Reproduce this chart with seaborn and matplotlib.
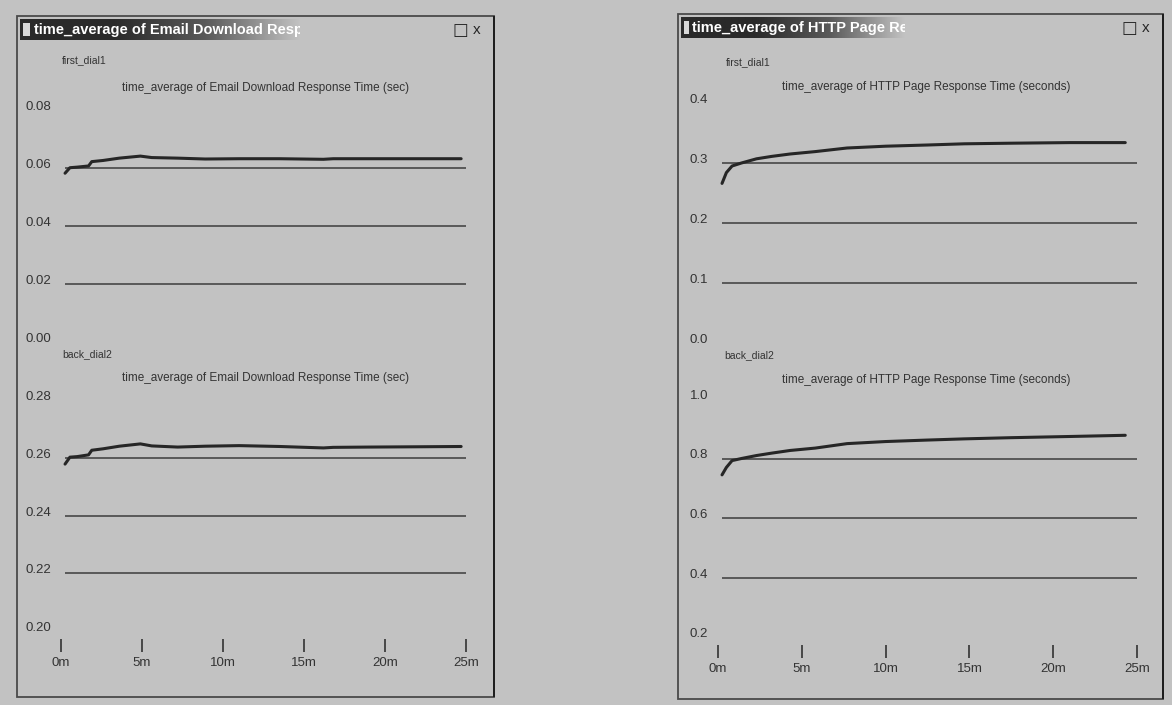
import numpy as np
import matplotlib
matplotlib.use("Agg")
import matplotlib.pyplot as plt
import seaborn as sns
from matplotlib.patches import Rectangle
from matplotlib.colors import LinearSegmentedColormap

sns.set_theme(style="white")
plt.rcParams['font.family'] = ['Liberation Sans Narrow', 'Liberation Sans', 'DejaVu Sans']

W, H = 1172, 705
BG = "#c2c2c2"
INK = "#262626"
GRID = "#3c3c3c"

# Simulation time axis (minutes)
minute_ticks = [0, 5, 10, 15, 20, 25]
minute_labels = ["0m", "5m", "10m", "15m", "20m", "25m"]

# Email download response time (sec)
email_t = [0.25, 0.55, 1.0, 1.7, 1.9, 2.6, 3.6, 4.9, 5.6, 7.2, 8.9, 11.0, 13.5, 16.2, 16.8, 19.0, 22.0, 24.7]
email_first = [0.0582, 0.0601, 0.0603, 0.0607, 0.0622, 0.0626, 0.0634, 0.0641, 0.0636, 0.0634,
               0.0631, 0.0632, 0.0632, 0.0630, 0.0632, 0.0632, 0.0632, 0.0632]
email_back = [0.2578, 0.2602, 0.2604, 0.2610, 0.2626, 0.2631, 0.2640, 0.2648, 0.2641, 0.2637,
              0.2640, 0.2642, 0.2639, 0.2634, 0.2636, 0.2637, 0.2638, 0.2639]

# HTTP page response time (seconds)
http_t = [0.24, 0.5, 0.84, 1.4, 2.3, 3.2, 4.3, 5.8, 7.7, 10.0, 12.5, 14.7, 17.5, 21.0, 24.3]
http_first = [0.266, 0.284, 0.295, 0.300, 0.307, 0.311, 0.315, 0.319, 0.325, 0.328,
              0.330, 0.332, 0.333, 0.334, 0.334]
http_back = [0.745, 0.770, 0.793, 0.800, 0.810, 0.818, 0.827, 0.835, 0.850, 0.857,
             0.862, 0.866, 0.870, 0.874, 0.878]

email_first_ticks = [0.00, 0.02, 0.04, 0.06, 0.08]
email_back_ticks = [0.20, 0.22, 0.24, 0.26, 0.28]
http_first_ticks = [0.0, 0.1, 0.2, 0.3, 0.4]
http_back_ticks = [0.2, 0.4, 0.6, 0.8, 1.0]

series_names = ["first_dial1", "back_dial2"]
email_title = "time_average of Email Download Response Time (sec)"
http_title = "time_average of HTTP Page Response Time (seconds)"


def frect(x0, y0, x1, y1):
    """Pixel box (top-left origin) -> figure fraction rect."""
    return [x0 / W, 1 - y1 / H, (x1 - x0) / W, (y1 - y0) / H]


def fx(x):
    return x / W


def fy(y):
    return 1 - y / H


fig = plt.figure(figsize=(W / 100, H / 100), dpi=100)
fig.patch.set_facecolor(BG)

title_cmap = LinearSegmentedColormap.from_list("bar", ["#2a2a2a", "#2a2a2a", "#5a5a5a", BG])


def window(x0, y0, x1, y1, bar_x1, caption):
    # frame
    fig.patches.append(Rectangle((fx(x0), fy(y1)), fx(x1) - fx(x0), fy(y0) - fy(y1),
                                 transform=fig.transFigure, fill=False,
                                 edgecolor="#4a4a4a", lw=1.3))
    fig.patches.append(Rectangle((fx(x1 - 1), fy(y1)), fx(1.5), fy(y0) - fy(y1),
                                 transform=fig.transFigure, color="#1e1e1e", lw=0))
    # title bar with gradient
    bar = fig.add_axes(frect(x0 + 3, y0 + 3, bar_x1, y0 + 24))
    grad = np.linspace(0, 1, 256)[None, :]
    bar.imshow(grad, aspect="auto", cmap=title_cmap, extent=(0, 1, 0, 1))
    bar.set_axis_off()
    bar.add_patch(Rectangle((0.012, 0.2), 0.025, 0.6, color="#d8d8d8", lw=0))
    bar.text(0.05, 0.48, caption, color="white", fontsize=10.5, fontweight="bold",
             va="center", ha="left", clip_on=True)
    # window buttons
    fig.text(fx(x1 - 34), fy(y0 + 14), "□", fontsize=12, color=INK, ha="center",
             va="center", family=["DejaVu Sans"])
    fig.text(fx(x1 - 17), fy(y0 + 14), "x", fontsize=11, color=INK, ha="center", va="center")


def panel(box, t, v, ticks, fmt, name, title, show_x, name_xy, title_xy):
    ax = fig.add_axes(frect(*box))
    ax.set_facecolor("none")
    ax.hlines(ticks[1:-1], t[0], minute_ticks[-1], color=GRID, lw=1.1)
    sns.lineplot(x=t, y=v, ax=ax, color=INK, lw=2.2)
    ax.set_xlim(minute_ticks[0], minute_ticks[-1])
    ax.set_ylim(ticks[0], ticks[-1])
    ax.set_yticks(ticks, [fmt.format(x) for x in ticks], va="baseline")
    ax.tick_params(axis="y", length=0, pad=7, labelsize=9.5, labelcolor="#333333")
    for s in ax.spines.values():
        s.set_visible(False)
    if show_x:
        ax.spines["bottom"].set_position(("outward", 6))
        ax.set_xticks(minute_ticks, minute_labels)
        ax.tick_params(axis="x", bottom=True, length=9, width=1.1, color=INK,
                       direction="out", pad=4, labelsize=9.5, labelcolor="#333333")
    else:
        ax.set_xticks([])
    ax.set_xlabel("")
    ax.set_ylabel("")
    fig.text(fx(name_xy[0]), fy(name_xy[1]), name, fontsize=7.5, color="#333333",
             ha="left", va="center")
    fig.text(fx(title_xy[0]), fy(title_xy[1]), title, fontsize=8.5, color="#333333",
             ha="center", va="center")
    return ax


# left window: email download
window(17, 16, 494, 697, 300, email_title)
panel((61, 110, 466, 342), email_t, email_first, email_first_ticks, "{:.2f}",
      series_names[0], email_title, False, (62, 60), (266, 88))
panel((61, 400, 466, 631), email_t, email_back, email_back_ticks, "{:.2f}",
      series_names[1], email_title, True, (62, 354), (266, 378))

# right window: HTTP page response
window(678, 14, 1163, 699, 905, http_title)
panel((718, 103, 1137, 343), http_t, http_first, http_first_ticks, "{:.1f}",
      series_names[0], http_title, False, (726, 62), (926, 87))
panel((718, 399, 1137, 637), http_t, http_back, http_back_ticks, "{:.1f}",
      series_names[1], http_title, True, (724, 355), (926, 380))

fig.savefig("out.png", dpi=100, facecolor=BG)
